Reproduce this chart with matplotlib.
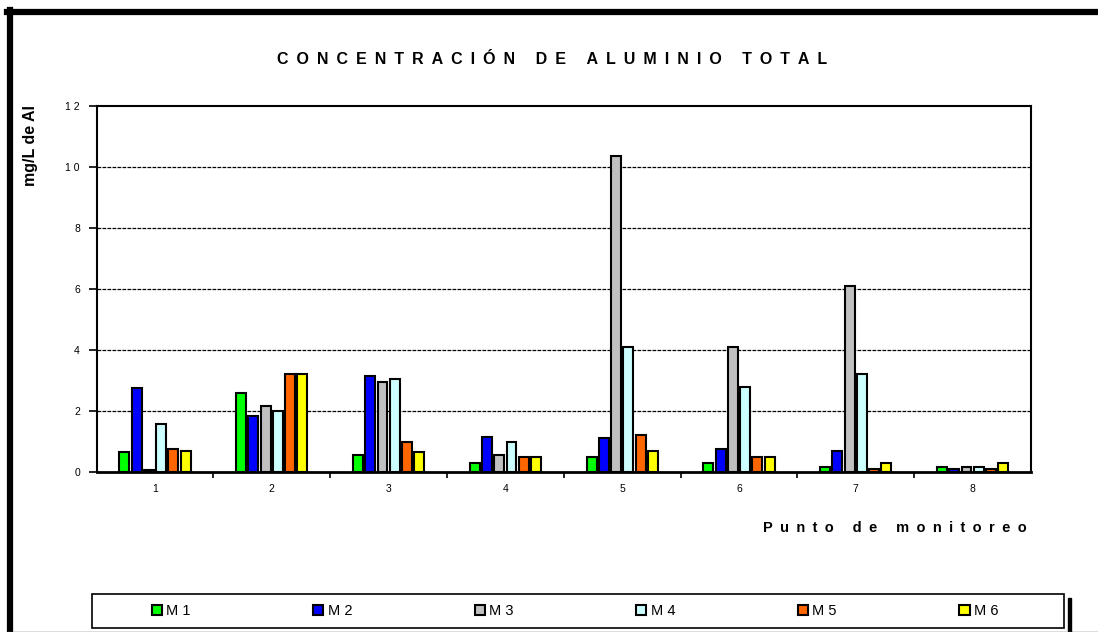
import matplotlib.pyplot as plt
import numpy as np
from matplotlib.lines import Line2D
from matplotlib.patches import Rectangle

plt.rcParams['font.family'] = ['Liberation Sans', 'DejaVu Sans']

# puntos de monitoreo
puntos = [1, 2, 3, 4, 5, 6, 7, 8]
series = ['M 1', 'M 2', 'M 3', 'M 4', 'M 5', 'M 6']
colores = ['#00FF00', '#0000FF', '#C0C0C0', '#CCFFFF', '#FF6600', '#FFFF00']

m1 = [0.65, 2.60, 0.55, 0.30, 0.50, 0.30, 0.15, 0.15]
m2 = [2.75, 1.83, 3.15, 1.15, 1.10, 0.75, 0.70, 0.10]
m3 = [0.05, 2.15, 2.95, 0.55, 10.35, 4.10, 6.10, 0.15]
m4 = [1.57, 2.00, 3.05, 1.00, 4.10, 2.80, 3.20, 0.15]
m5 = [0.75, 3.20, 1.00, 0.50, 1.22, 0.50, 0.10, 0.10]
m6 = [0.70, 3.20, 0.65, 0.50, 0.70, 0.50, 0.30, 0.30]
valores = [m1, m2, m3, m4, m5, m6]

y_ticks = [0, 2, 4, 6, 8, 10, 12]
y_labels = ['0', '2', '4', '6', '8', '1 0', '1 2']


def espaciado(texto):
    # separa las letras como en el grafico original
    palabras = texto.split(' ')
    return '\u2002 \u2002'.join('\u2002'.join(p) for p in palabras)


W, H = 1098, 632
fig = plt.figure(figsize=(W / 100, H / 100), dpi=100)
ax = fig.add_axes([96.6 / W, 1 - 472 / H, (1031 - 96.6) / W, (472 - 106) / H])

x = np.array(puntos)
paso = 0.105
for k, (vals, col, nom) in enumerate(zip(valores, colores, series)):
    ax.bar(x + (k - 2.5) * paso, vals, width=0.085, color=col,
           edgecolor='black', linewidth=1.5, label=nom, zorder=3)

ax.set_xlim(0.5, 8.5)
ax.set_ylim(0, 12)
ax.set_yticks(y_ticks)
ax.set_yticklabels(y_labels, fontsize=7.5)
ax.set_xticks(puntos)
ax.set_xticklabels([str(p) for p in puntos], fontsize=7.5)
ax.set_xticks(np.arange(1.5, 8.5, 1), minor=True)
ax.tick_params(axis='x', which='major', length=0, pad=9)
ax.tick_params(axis='x', which='minor', length=4, width=1.2, direction='out')
ax.tick_params(axis='y', length=6, width=1.2, direction='out', pad=6)
for g in y_ticks[1:-1]:
    ax.axhline(g, color='black', linestyle=(0, (3, 1)), linewidth=0.9, zorder=1)
for s in ax.spines.values():
    s.set_linewidth(1.5)
ax.spines['bottom'].set_linewidth(2)

fig.text(552 / W, 1 - 59 / H, espaciado('CONCENTRACIÓN DE ALUMINIO TOTAL'),
         ha='center', va='center', fontsize=11.5, fontweight='bold')
fig.text(1027 / W, 1 - 528 / H, espaciado('Punto de monitoreo'),
         ha='right', va='center', fontsize=10.5, fontweight='bold')
fig.text(31 / W, 1 - 145 / H, 'mg/L de Al', rotation=90,
         ha='center', va='center', fontsize=11.5, fontweight='bold')

# marco exterior
fig.add_artist(Line2D([7 / W, 1], [1 - 12 / H, 1 - 12 / H], color='black', linewidth=4.5))
fig.add_artist(Line2D([9.5 / W, 9.5 / W], [0, 1 - 10 / H], color='black', linewidth=4.5))
fig.add_artist(Line2D([7 / W, 1], [0.5 / H, 0.5 / H], color='#555555', linewidth=1))

# leyenda
fig.add_artist(Rectangle((92 / W, 4 / H), (1064 - 92) / W, 34 / H, facecolor='white',
                         edgecolor='black', linewidth=1.2, transform=fig.transFigure))
fig.add_artist(Rectangle((1068 / W, 0), 3 / W, 34 / H, color='black', transform=fig.transFigure))
leg = fig.legend(loc='center', bbox_to_anchor=(575 / W, 1 - 611 / H),
                 ncol=6, fontsize=10.5, frameon=False,
                 handlelength=0.7, handleheight=0.7, handletextpad=0.3,
                 columnspacing=8.4, borderaxespad=0)

fig.savefig('out.png', dpi=100)
